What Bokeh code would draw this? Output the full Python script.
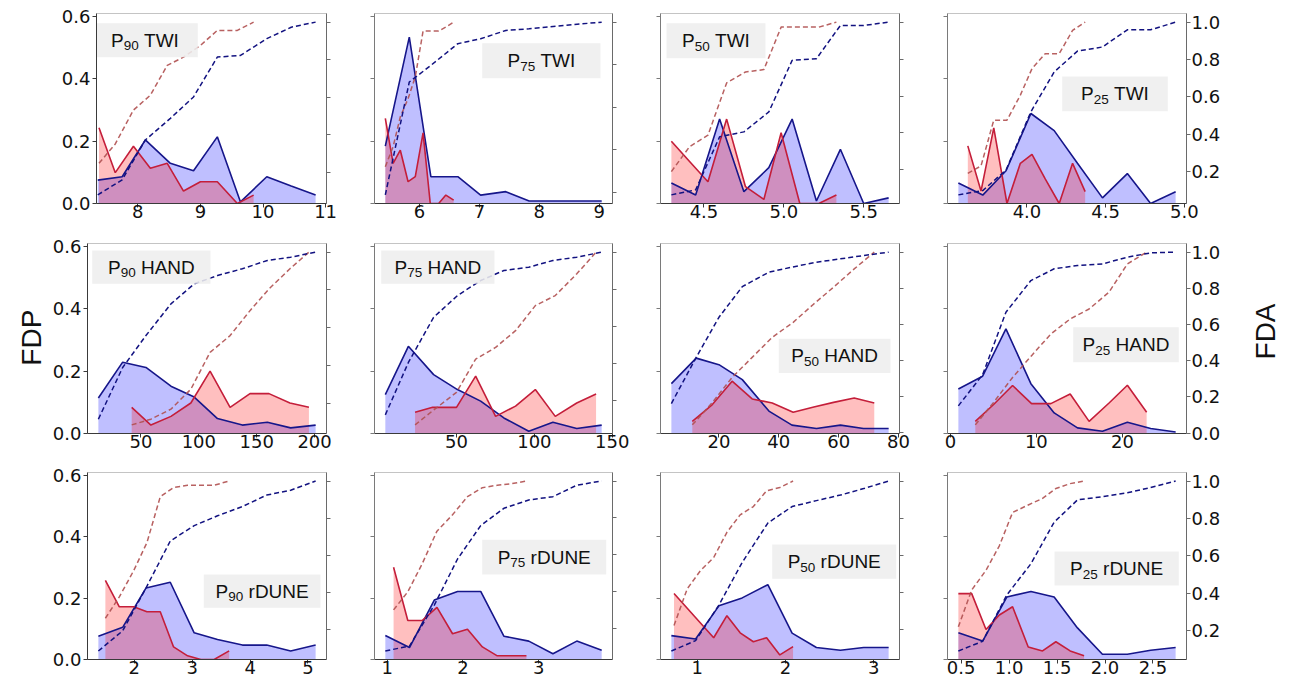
import math
from bokeh.plotting import figure
from bokeh.models import (Range1d, LinearAxis, FixedTicker, CustomJSTickFormatter, Label)
from bokeh.layouts import column, row
from bokeh.embed import file_html
from bokeh.resources import INLINE

# ------------------------------------------------------------------ data
# xb / fdpb / fdab : blue class (x, FDP, FDA);  xr / fdpr / fdar : red class
p90_twi_xb = [7.36, 7.75, 8.12, 8.52, 8.89, 9.27, 9.64, 10.06, 10.45, 10.84]
p90_twi_fdpb = [0.075, 0.086, 0.204, 0.129, 0.105, 0.214, 0.005, 0.086, 0.056, 0.027]
p90_twi_fdab = [0.081, 0.161, 0.373, 0.488, 0.602, 0.814, 0.823, 0.912, 0.973, 1.0]
p90_twi_xr = [7.38, 7.64, 7.93, 8.20, 8.47, 8.73, 9.00, 9.27, 9.59, 9.85]
p90_twi_fdpr = [0.243, 0.099, 0.184, 0.113, 0.129, 0.040, 0.070, 0.070, 0.0, 0.027]
p90_twi_fdar = [0.249, 0.352, 0.532, 0.611, 0.770, 0.814, 0.876, 0.956, 0.956, 1.0]

p75_twi_xb = [5.43, 5.83, 6.19, 6.64, 7.02, 7.44, 7.83, 8.23, 8.63, 9.04]
p75_twi_fdpb = [0.184, 0.534, 0.086, 0.086, 0.027, 0.038, 0.008, 0.008, 0.008, 0.008]
p75_twi_fdab = [0.189, 0.719, 0.797, 0.899, 0.922, 0.961, 0.969, 0.980, 0.990, 1.0]
p75_twi_xr = [5.43, 5.56, 5.68, 5.81, 5.93, 6.06, 6.18, 6.32, 6.44, 6.57]
p75_twi_fdpr = [0.273, 0.129, 0.171, 0.070, 0.086, 0.227, 0.0, 0.0, 0.027, 0.011]
p75_twi_fdar = [0.321, 0.415, 0.555, 0.641, 0.743, 0.958, 0.958, 0.958, 0.977, 1.0]

p50_twi_xb = [4.296, 4.448, 4.598, 4.75, 4.906, 5.052, 5.204, 5.354, 5.50, 5.656]
p50_twi_fdpb = [0.066, 0.027, 0.271, 0.038, 0.115, 0.271, 0.008, 0.174, 0.0, 0.018]
p50_twi_fdab = [0.065, 0.092, 0.379, 0.406, 0.514, 0.793, 0.802, 0.982, 0.982, 1.0]
p50_twi_xr = [4.296, 4.41, 4.525, 4.642, 4.76, 4.875, 4.983, 5.10, 5.219, 5.329]
p50_twi_fdpr = [0.20, 0.135, 0.070, 0.271, 0.054, 0.013, 0.227, 0.0, 0.0, 0.027]
p50_twi_fdar = [0.191, 0.326, 0.388, 0.671, 0.730, 0.743, 0.973, 0.973, 0.973, 1.0]

p25_twi_xb = [3.564, 3.719, 3.867, 4.025, 4.173, 4.321, 4.48, 4.638, 4.786, 4.945]
p25_twi_fdpb = [0.066, 0.027, 0.105, 0.289, 0.234, 0.129, 0.018, 0.096, 0.0, 0.038]
p25_twi_fdab = [0.075, 0.098, 0.208, 0.520, 0.733, 0.845, 0.867, 0.959, 0.959, 1.0]
p25_twi_xr = [3.624, 3.708, 3.789, 3.873, 3.958, 4.032, 4.116, 4.205, 4.29, 4.37]
p25_twi_fdpr = [0.185, 0.040, 0.243, 0.0, 0.129, 0.158, 0.079, 0.0, 0.129, 0.038]
p25_twi_fdar = [0.190, 0.230, 0.475, 0.475, 0.609, 0.751, 0.831, 0.831, 0.956, 1.0]

p90_hand_xb = [13.2, 34.2, 54.3, 75.9, 96.0, 116.1, 137.6, 159.2, 179.3, 200.9]
p90_hand_fdpb = [0.114, 0.229, 0.212, 0.152, 0.117, 0.048, 0.027, 0.036, 0.018, 0.027]
p90_hand_fdab = [0.115, 0.389, 0.558, 0.726, 0.832, 0.876, 0.912, 0.956, 0.973, 1.0]
p90_hand_xr = [42.0, 58.6, 75.9, 93.1, 109.7, 127.0, 144.2, 160.6, 178.7, 195.1]
p90_hand_fdpr = [0.084, 0.027, 0.055, 0.098, 0.200, 0.084, 0.128, 0.128, 0.098, 0.084]
p90_hand_fdar = [0.085, 0.115, 0.168, 0.274, 0.469, 0.558, 0.690, 0.805, 0.912, 1.0]

p75_hand_xb = [4.3, 19.1, 35.3, 50.6, 65.5, 80.4, 96.4, 111.9, 127.2, 143.2]
p75_hand_fdpb = [0.125, 0.280, 0.189, 0.141, 0.104, 0.050, 0.007, 0.036, 0.016, 0.027]
p75_hand_fdab = [0.124, 0.406, 0.649, 0.766, 0.847, 0.901, 0.919, 0.955, 0.973, 1.0]
p75_hand_xr = [23.4, 34.7, 50.0, 62.3, 75.1, 87.9, 100.6, 113.4, 127.2, 139.6]
p75_hand_fdpr = [0.068, 0.084, 0.084, 0.184, 0.055, 0.088, 0.141, 0.055, 0.098, 0.127]
p75_hand_fdar = [0.070, 0.146, 0.245, 0.424, 0.487, 0.577, 0.712, 0.766, 0.883, 1.0]

p50_hand_xb = [4.1, 12.4, 20.0, 27.8, 36.7, 44.4, 52.6, 60.6, 68.3, 76.7]
p50_hand_fdpb = [0.160, 0.242, 0.221, 0.173, 0.072, 0.027, 0.016, 0.027, 0.016, 0.016]
p50_hand_fdab = [0.161, 0.417, 0.639, 0.809, 0.889, 0.917, 0.944, 0.963, 0.981, 1.0]
p50_hand_xr = [11.1, 17.8, 24.4, 31.1, 37.8, 44.8, 51.7, 58.3, 65.2, 71.9]
p50_hand_fdpr = [0.039, 0.093, 0.168, 0.111, 0.098, 0.068, 0.085, 0.100, 0.114, 0.098]
p50_hand_fdar = [0.043, 0.167, 0.306, 0.417, 0.528, 0.611, 0.713, 0.806, 0.907, 1.0]

p25_hand_xb = [0.93, 3.75, 6.46, 9.36, 12.07, 14.78, 17.68, 20.58, 23.29, 26.19]
p25_hand_fdpb = [0.143, 0.184, 0.336, 0.160, 0.066, 0.018, 0.007, 0.036, 0.016, 0.005]
p25_hand_fdab = [0.151, 0.323, 0.668, 0.843, 0.908, 0.926, 0.935, 0.972, 0.996, 1.0]
p25_hand_xr = [2.9, 5.03, 7.23, 9.44, 11.68, 13.93, 16.13, 18.45, 20.58, 22.82]
p25_hand_fdpr = [0.039, 0.093, 0.154, 0.096, 0.096, 0.127, 0.039, 0.098, 0.155, 0.068]
p25_hand_fdar = [0.046, 0.170, 0.308, 0.428, 0.548, 0.631, 0.686, 0.779, 0.935, 1.0]

p90_rdune_xb = [1.379, 1.799, 2.201, 2.621, 3.034, 3.437, 3.868, 4.287, 4.701, 5.132]
p90_rdune_fdpb = [0.076, 0.105, 0.233, 0.252, 0.087, 0.065, 0.047, 0.047, 0.028, 0.047]
p90_rdune_fdab = [0.082, 0.191, 0.422, 0.676, 0.759, 0.812, 0.862, 0.924, 0.950, 1.0]
p90_rdune_xr = [1.50, 1.741, 1.989, 2.218, 2.448, 2.678, 2.92, 3.149, 3.379, 3.638]
p90_rdune_fdpr = [0.258, 0.172, 0.172, 0.156, 0.156, 0.041, 0.012, 0.0, 0.0, 0.028]
p90_rdune_fdar = [0.259, 0.374, 0.516, 0.667, 0.915, 0.965, 0.977, 0.977, 0.977, 1.0]

p75_rdune_xb = [0.974, 1.293, 1.621, 1.928, 2.234, 2.540, 2.869, 3.188, 3.503, 3.832]
p75_rdune_fdpb = [0.078, 0.039, 0.194, 0.222, 0.222, 0.076, 0.060, 0.019, 0.060, 0.030]
p75_rdune_fdab = [0.078, 0.105, 0.327, 0.577, 0.758, 0.852, 0.897, 0.915, 0.977, 1.0]
p75_rdune_xr = [1.083, 1.271, 1.46, 1.656, 1.862, 2.059, 2.256, 2.453, 2.65, 2.838]
p75_rdune_fdpr = [0.301, 0.127, 0.127, 0.170, 0.084, 0.099, 0.041, 0.012, 0.012, 0.012]
p75_rdune_fdar = [0.301, 0.399, 0.550, 0.728, 0.817, 0.915, 0.964, 0.977, 0.986, 1.0]

p50_rdune_xb = [0.706, 0.981, 1.245, 1.509, 1.80, 2.075, 2.351, 2.623, 2.887, 3.17]
p50_rdune_fdpb = [0.078, 0.067, 0.175, 0.201, 0.244, 0.086, 0.039, 0.030, 0.039, 0.039]
p50_rdune_fdab = [0.082, 0.138, 0.330, 0.560, 0.773, 0.862, 0.894, 0.924, 0.959, 1.0]
p50_rdune_xr = [0.736, 0.886, 1.036, 1.186, 1.336, 1.486, 1.636, 1.786, 1.936, 2.086]
p50_rdune_fdpr = [0.215, 0.167, 0.119, 0.071, 0.143, 0.087, 0.058, 0.071, 0.015, 0.042]
p50_rdune_fdar = [0.220, 0.418, 0.516, 0.587, 0.723, 0.817, 0.862, 0.947, 0.965, 1.0]

p25_rdune_xb = [0.472, 0.725, 0.978, 1.228, 1.47, 1.713, 1.973, 2.233, 2.476, 2.736]
p25_rdune_fdpb = [0.087, 0.060, 0.204, 0.222, 0.204, 0.103, 0.017, 0.017, 0.030, 0.039]
p25_rdune_fdab = [0.092, 0.144, 0.392, 0.558, 0.780, 0.899, 0.916, 0.937, 0.965, 1.0]
p25_rdune_xr = [0.472, 0.611, 0.76, 0.899, 1.037, 1.2, 1.349, 1.488, 1.637, 1.782]
p25_rdune_fdpr = [0.215, 0.215, 0.098, 0.145, 0.172, 0.041, 0.028, 0.058, 0.028, 0.012]
p25_rdune_fdar = [0.221, 0.418, 0.523, 0.654, 0.832, 0.872, 0.907, 0.960, 0.986, 1.0]

# panel titles (percentile subscript, variable)
TITLE_PCT = ["90", "75", "50", "25"] * 3
TITLE_VAR = ["TWI"] * 4 + ["HAND"] * 4 + ["rDUNE"] * 4
Y_LEFT_TITLE = "FDP"
Y_RIGHT_TITLE = "FDA"

# x tick values and labels per panel
XTICKS = [
    [8, 9, 10, 11], [6, 7, 8, 9], [4.5, 5.0, 5.5], [4.0, 4.5, 5.0],
    [50, 100, 150, 200], [50, 100, 150], [20, 40, 60, 80], [0, 10, 20],
    [2, 3, 4, 5], [1, 2, 3], [1, 2, 3], [0.5, 1.0, 1.5, 2.0, 2.5],
]
XTICK_LABELS = [
    ["8", "9", "10", "11"], ["6", "7", "8", "9"], ["4.5", "5.0", "5.5"], ["4.0", "4.5", "5.0"],
    ["50", "100", "150", "200"], ["50", "100", "150"], ["20", "40", "60", "80"], ["0", "10", "20"],
    ["2", "3", "4", "5"], ["1", "2", "3"], ["1", "2", "3"], ["0.5", "1.0", "1.5", "2.0", "2.5"],
]
FDP_TICKS = [0.0, 0.2, 0.4, 0.6]
FDP_TICK_LABELS = ["0.0", "0.2", "0.4", "0.6"]
FDA_TICKS = [0.0, 0.2, 0.4, 0.6, 0.8, 1.0]
FDA_TICK_LABELS = ["0.0", "0.2", "0.4", "0.6", "0.8", "1.0"]
FDP_LIMIT = 0.61

SERIES = [
    (p90_twi_xb, p90_twi_fdpb, p90_twi_fdab, p90_twi_xr, p90_twi_fdpr, p90_twi_fdar),
    (p75_twi_xb, p75_twi_fdpb, p75_twi_fdab, p75_twi_xr, p75_twi_fdpr, p75_twi_fdar),
    (p50_twi_xb, p50_twi_fdpb, p50_twi_fdab, p50_twi_xr, p50_twi_fdpr, p50_twi_fdar),
    (p25_twi_xb, p25_twi_fdpb, p25_twi_fdab, p25_twi_xr, p25_twi_fdpr, p25_twi_fdar),
    (p90_hand_xb, p90_hand_fdpb, p90_hand_fdab, p90_hand_xr, p90_hand_fdpr, p90_hand_fdar),
    (p75_hand_xb, p75_hand_fdpb, p75_hand_fdab, p75_hand_xr, p75_hand_fdpr, p75_hand_fdar),
    (p50_hand_xb, p50_hand_fdpb, p50_hand_fdab, p50_hand_xr, p50_hand_fdpr, p50_hand_fdar),
    (p25_hand_xb, p25_hand_fdpb, p25_hand_fdab, p25_hand_xr, p25_hand_fdpr, p25_hand_fdar),
    (p90_rdune_xb, p90_rdune_fdpb, p90_rdune_fdab, p90_rdune_xr, p90_rdune_fdpr, p90_rdune_fdar),
    (p75_rdune_xb, p75_rdune_fdpb, p75_rdune_fdab, p75_rdune_xr, p75_rdune_fdpr, p75_rdune_fdar),
    (p50_rdune_xb, p50_rdune_fdpb, p50_rdune_fdab, p50_rdune_xr, p50_rdune_fdpr, p50_rdune_fdar),
    (p25_rdune_xb, p25_rdune_fdpb, p25_rdune_fdab, p25_rdune_xr, p25_rdune_fdpr, p25_rdune_fdar),
]

# ------------------------------------------------------------------ layout / style
# (left border, frame width, right border) per row & column
FRAME_X = [
    [(96, 230, 24), (24, 238, 24), (24, 239, 24), (24, 239, 103)],
    [(41, 239, 24), (24, 238, 24), (24, 239, 24), (24, 239, 60)],
    [(87, 239, 24), (24, 238, 24), (24, 239, 24), (24, 239, 103)],
]
# (top border, frame height, bottom border) per row
FRAME_Y = [(13, 190, 23), (17, 190, 23), (16, 187, 22)]
SIDE_W = (46, 43)            # widths of the side strips holding FDP / FDA (row 2)
SIDE_CENTER = ((31, 114), (18.5, 106.5))
# title box: (dx, dy, w, h) in px from frame top-left
BOXES = [
    (-4.3, 9.7, 105.6, 34), (107.7, 29.7, 118.3, 35), (6, 9.7, 99, 35), (114.7, 63, 105.6, 34.7),
    (4.7, 7, 118.3, 33.3), (6.7, 7, 113.3, 33.3), (118.3, 95.3, 111.7, 34.3), (125.7, 83.7, 105.6, 35),
    (116.3, 102, 116.7, 33.3), (107.7, 67.3, 124, 34.7), (111.7, 72, 124, 34.3), (107, 79, 124.3, 34),
]

TICK_FONT = "DejaVu Sans"
TICK_SIZE = "18px"
TEXT_FONT = "Liberation Sans"
MAIN_SIZE = 19
SUB_SIZE = 13.5
BLUE_FILL = "blue"
RED_FILL = "red"
BLUE_LINE = "#16168a"
RED_LINE = "#c41e3a"
BLUE_DASH = "#121280"
RED_DASH = "#b05050"

ARIAL_W = {'P': 0.667, 'T': 0.611, 'W': 0.944, 'I': 0.278, 'H': 0.722, 'A': 0.667,
           'N': 0.722, 'D': 0.722, 'r': 0.333, 'U': 0.722, 'E': 0.667, ' ': 0.278}


def text_w(s, size):
    return sum(ARIAL_W.get(ch, 0.556) for ch in s) * size


def style_axis(ax, line_color, ticks, labels, show_labels):
    ax.ticker = FixedTicker(ticks=ticks)
    ax.major_tick_out = 4
    ax.major_tick_in = 0
    ax.minor_tick_out = 0
    ax.minor_tick_in = 0
    ax.axis_line_color = line_color
    ax.major_tick_line_color = line_color
    ax.major_label_text_font = TICK_FONT
    ax.major_label_text_font_size = TICK_SIZE
    ax.major_label_text_color = "#111111"
    if show_labels:
        ax.major_label_overrides = dict(zip(ticks, labels))
    else:
        ax.formatter = CustomJSTickFormatter(code="return ''")


def make_panel(r, c):
    k = r * 4 + c
    xb, fdpb, fdab, xr, fdpr, fdar = SERIES[k]
    bl, fw, br = FRAME_X[r][c]
    bt, fh, bb = FRAME_Y[r]

    xs = xb + xr
    lo, hi = min(xs), max(xs)
    pad = 0.05 * (hi - lo)
    x0, x1 = lo - pad, hi + pad
    if k == 0:
        x0 = lo - 0.02
    fa = fdab + fdar
    alo, ahi = min(fa), max(fa)
    apad = 0.05 * (ahi - alo)
    y0, y1 = 0.0, FDP_LIMIT

    p = figure(width=bl + fw + br, height=bt + fh + bb,
               x_range=Range1d(x0, x1), y_range=Range1d(y0, y1),
               output_backend="svg", toolbar_location=None,
               min_border_left=bl, min_border_right=br,
               min_border_top=bt, min_border_bottom=bb)
    p.extra_y_ranges = {"fda": Range1d(alo - apad, ahi + apad)}
    p.xgrid.visible = False
    p.ygrid.visible = False
    p.outline_line_color = "#c4c4c4"
    p.background_fill_color = "white"
    p.border_fill_color = "white"

    xa = p.xaxis[0]
    style_axis(xa, "#3a3a3a", XTICKS[k], XTICK_LABELS[k], True)
    xa.major_label_standoff = -3

    ya = p.yaxis[0]
    style_axis(ya, "#3a3a3a" if c == 0 else "#7a7a7a", FDP_TICKS, FDP_TICK_LABELS, c == 0)
    ya.major_label_standoff = 2

    ra = LinearAxis(y_range_name="fda")
    style_axis(ra, "#6a6a6a", FDA_TICKS, FDA_TICK_LABELS, c == 3)
    ra.major_label_standoff = 1
    p.add_layout(ra, "right")

    # filled FDP areas and lines
    p.varea(x=xb, y1=[0] * len(xb), y2=fdpb, fill_color=BLUE_FILL, fill_alpha=0.25)
    p.varea(x=xr, y1=[0] * len(xr), y2=fdpr, fill_color=RED_FILL, fill_alpha=0.25)
    p.line(xb, fdpb, line_color=BLUE_LINE, line_width=1.6)
    p.line(xr, fdpr, line_color=RED_LINE, line_width=1.6)
    # cumulative FDA (dashed, right axis)
    p.line(xr, fdar, y_range_name="fda", line_color=RED_DASH, line_width=1.5,
           line_dash="5 3", line_alpha=0.9)
    p.line(xb, fdab, y_range_name="fda", line_color=BLUE_DASH, line_width=1.5,
           line_dash="5 3")

    # title box
    sx = fw / (x1 - x0)
    sy = fh / (y1 - y0)
    dx, dy, w, h = BOXES[k]

    def dxp(px):
        return x0 + px / sx

    def dyp(py):
        return y1 - py / sy

    p.quad(left=[dxp(dx)], right=[dxp(dx + w)], top=[dyp(dy)], bottom=[dyp(dy + h)],
           fill_color="#eeeeee", fill_alpha=0.88, line_color=None)
    pct, var = TITLE_PCT[k], TITLE_VAR[k]
    gap = text_w(" ", MAIN_SIZE)
    total = text_w("P", MAIN_SIZE) + text_w(pct, SUB_SIZE) + gap + text_w(var, MAIN_SIZE)
    start = dx + w / 2 - total / 2
    mid = dy + h / 2
    pieces = [("P", MAIN_SIZE, 0.0, 0.0), (pct, SUB_SIZE, 5.5, 0.0), (var, MAIN_SIZE, 0.0, gap)]
    cur = start
    for txt, size, drop, lead in pieces:
        cur += lead
        p.add_layout(Label(x=dxp(cur), y=dyp(mid + drop), text=txt,
                           text_font=TEXT_FONT, text_font_size=f"{size}px",
                           text_color="#111111", text_align="left",
                           text_baseline="middle"))
        cur += text_w(txt, size)
    return p


def side_strip(width, height, text, cx, cy):
    p = figure(width=width, height=height, x_range=Range1d(0, width),
               y_range=Range1d(0, height), output_backend="svg", toolbar_location=None,
               x_axis_location=None, y_axis_location=None,
               min_border_left=0, min_border_right=0, min_border_top=0, min_border_bottom=0)
    p.xgrid.visible = False
    p.ygrid.visible = False
    p.outline_line_color = None
    p.background_fill_color = "white"
    p.border_fill_color = "white"
    p.add_layout(Label(x=cx, y=height - cy, text=text, angle=math.pi / 2,
                       text_font=TEXT_FONT, text_font_size="28px", text_color="#111111",
                       text_align="center", text_baseline="middle"))
    return p


rows = []
for r in range(3):
    figs = [make_panel(r, c) for c in range(4)]
    if r == 1:
        h = FRAME_Y[1][0] + FRAME_Y[1][1] + FRAME_Y[1][2]
        figs = ([side_strip(SIDE_W[0], h, Y_LEFT_TITLE, *SIDE_CENTER[0])] + figs +
                [side_strip(SIDE_W[1], h, Y_RIGHT_TITLE, *SIDE_CENTER[1])])
    rows.append(row(*figs, spacing=0))
layout = column(*rows, spacing=0)

open("out.html", "w").write(file_html(layout, INLINE))
